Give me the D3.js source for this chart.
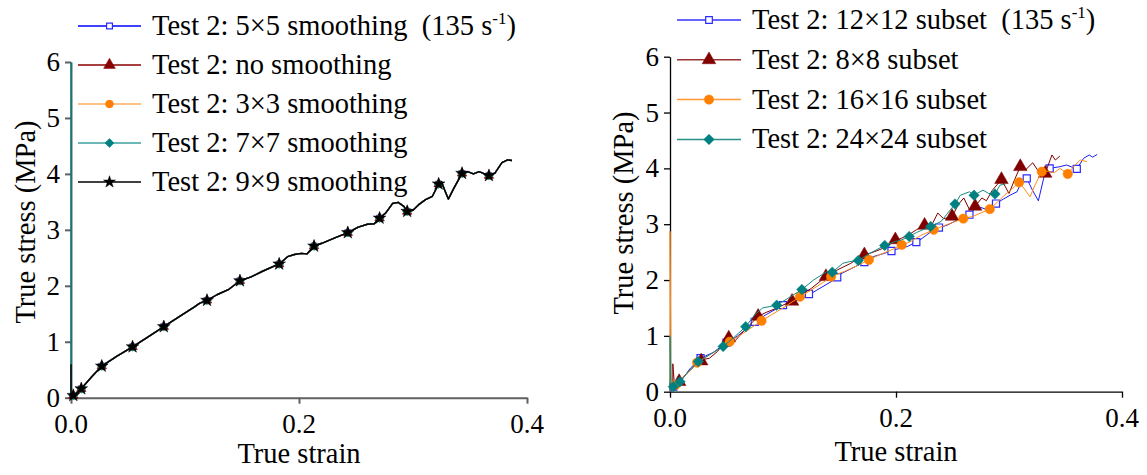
<!DOCTYPE html>
<html>
<head>
<meta charset="utf-8">
<script src="https://cdnjs.cloudflare.com/ajax/libs/d3/7.8.5/d3.min.js"></script>
</head>
<body style="margin:0">
<div id="c"></div>
<script>
// axis ticks (shared by both panels)
const xTicks = [0, 0.2, 0.4];
const xMinor = [0.1, 0.3];
const yTicks = [0, 1, 2, 3, 4, 5, 6];
const yMinor = [0.5, 1.5, 2.5, 3.5, 4.5, 5.5];

// ---- left panel: smoothing (all five curves lie on top of each other)
const leftNames = ['Test 2: 5\u00d75 smoothing', 'Test 2: no smoothing', 'Test 2: 3\u00d73 smoothing',
                   'Test 2: 7\u00d77 smoothing', 'Test 2: 9\u00d79 smoothing'];
const leftCurve = [[0,0],[0.003,0.05],[0.009,0.16],[0.018,0.37],[0.027,0.565],[0.04,0.74],[0.054,0.91],
  [0.068,1.09],[0.0814,1.27],[0.095,1.45],[0.108,1.62],[0.113,1.69],[0.1193,1.74],[0.128,1.84],[0.138,1.93],
  [0.1482,2.09],[0.158,2.16],[0.168,2.26],[0.1826,2.39],[0.19,2.52],[0.196,2.56],[0.202,2.58],[0.207,2.57],
  [0.2132,2.71],[0.22,2.76],[0.232,2.86],[0.2428,2.95],[0.252,3.05],[0.26,3.1],[0.266,3.11],[0.2707,3.21],
  [0.276,3.3],[0.282,3.47],[0.287,3.49],[0.292,3.42],[0.2949,3.33],[0.30,3.35],[0.305,3.45],[0.311,3.54],
  [0.317,3.6],[0.3225,3.82],[0.325,3.86],[0.328,3.7],[0.331,3.55],[0.336,3.75],[0.343,4.01],[0.348,4.04],
  [0.353,4.0],[0.358,4.04],[0.3666,3.97],[0.372,4.02],[0.378,4.2],[0.383,4.25],[0.3868,4.24]];
const leftMarks = [[0.002,0.04],[0.009,0.16],[0.027,0.565],[0.054,0.91],[0.0814,1.27],[0.1193,1.74],
  [0.1482,2.09],[0.1826,2.39],[0.2132,2.71],[0.2428,2.95],[0.2707,3.21],[0.2949,3.33],[0.3225,3.82],
  [0.343,4.01],[0.3666,3.97]];
// vertical start-up segments at zero strain
const left7Lead = [[0, 6]];
const left9Lead = [[0, 0.6]];

// ---- right panel: subset size
const rightNames = ['Test 2: 12\u00d712 subset', 'Test 2: 8\u00d78 subset', 'Test 2: 16\u00d716 subset', 'Test 2: 24\u00d724 subset'];
const sub12 = [[0,0],[0.003,0.09],[0.01,0.2],[0.018,0.42],[0.027,0.6],[0.038,0.7],[0.05,0.88],[0.06,1.0],
  [0.075,1.25],[0.085,1.38],[0.1,1.55],[0.11,1.62],[0.12,1.7],[0.13,1.82],[0.145,2.0],[0.15,2.1],[0.16,2.2],
  [0.17,2.3],[0.18,2.42],[0.19,2.48],[0.2,2.55],[0.21,2.6],[0.22,2.7],[0.23,2.85],[0.238,2.94],[0.245,2.98],
  [0.255,3.08],[0.265,3.17],[0.27,3.28],[0.275,3.3],[0.282,3.25],[0.2885,3.37],[0.295,3.45],[0.301,3.52],
  [0.307,3.58],[0.312,3.8],[0.3157,3.82],[0.321,3.6],[0.326,3.42],[0.333,4.02],[0.336,4.0],[0.345,4.03],
  [0.351,4.06],[0.36,3.99],[0.366,4.18],[0.371,4.24],[0.374,4.2],[0.378,4.25]];
const sub12Marks = [[0.003,0.09],[0.027,0.6],[0.05,0.88],[0.075,1.25],[0.1,1.55],[0.123,1.75],[0.148,2.05],
  [0.172,2.32],[0.196,2.52],[0.218,2.68],[0.238,2.94],[0.265,3.17],[0.2885,3.37],[0.3157,3.82],[0.336,4.0],[0.36,3.99]];
const sub8 = [[0.0025,0.05],[0.0025,0.5],[0.004,0.1],[0.0081,0.18],[0.015,0.33],[0.0276,0.57],[0.035,0.6],
  [0.042,0.72],[0.052,0.97],[0.058,0.92],[0.065,1.08],[0.078,1.35],[0.085,1.42],[0.095,1.5],[0.105,1.6],
  [0.115,1.72],[0.125,1.85],[0.138,2.06],[0.148,2.18],[0.16,2.3],[0.172,2.45],[0.18,2.5],[0.19,2.58],
  [0.1994,2.7],[0.205,2.75],[0.212,2.82],[0.218,2.9],[0.2253,2.98],[0.232,3.0],[0.237,3.2],[0.242,3.1],
  [0.2496,3.13],[0.255,3.35],[0.26,3.47],[0.265,3.26],[0.27,3.32],[0.276,3.47],[0.28,3.42],[0.285,3.6],
  [0.2933,3.8],[0.3,3.55],[0.305,3.8],[0.31,4.03],[0.315,3.98],[0.321,4.1],[0.326,3.95],[0.332,3.91],
  [0.338,4.24],[0.341,4.15],[0.345,4.22]];
const sub8Marks = [[0.0081,0.18],[0.0276,0.55],[0.052,0.96],[0.078,1.35],[0.108,1.62],[0.138,2.06],[0.172,2.45],
  [0.1994,2.72],[0.2253,2.98],[0.2496,3.14],[0.27,3.32],[0.2933,3.8],[0.31,4.03],[0.332,3.91]];
const sub16 = [[0,0],[0,2.87],[0.001,0.04],[0.005,0.12],[0.015,0.32],[0.024,0.52],[0.035,0.66],[0.045,0.78],
  [0.0528,0.895],[0.065,1.05],[0.081,1.27],[0.09,1.38],[0.1,1.5],[0.115,1.7],[0.125,1.82],[0.135,1.95],
  [0.1426,2.06],[0.155,2.16],[0.165,2.25],[0.176,2.36],[0.185,2.45],[0.195,2.53],[0.205,2.63],[0.212,2.68],
  [0.222,2.8],[0.2334,2.9],[0.242,2.97],[0.25,3.03],[0.2596,3.1],[0.268,3.14],[0.275,3.2],[0.283,3.27],
  [0.29,3.4],[0.295,3.5],[0.302,3.62],[0.309,3.75],[0.313,3.65],[0.3186,3.49],[0.323,3.7],[0.329,3.94],
  [0.335,3.95],[0.34,3.92],[0.345,4.0],[0.352,3.9],[0.358,4.05],[0.363,4.15],[0.369,4.12]];
const sub16Marks = [[0.005,0.12],[0.024,0.52],[0.0528,0.895],[0.081,1.27],[0.115,1.7],[0.1426,2.06],[0.176,2.36],
  [0.205,2.63],[0.2334,2.9],[0.2596,3.1],[0.283,3.27],[0.309,3.75],[0.329,3.94],[0.352,3.9]];
const sub24 = [[0,0],[0,0.99],[0.001,0.04],[0.003,0.09],[0.0088,0.18],[0.017,0.38],[0.025,0.54],[0.035,0.66],
  [0.047,0.81],[0.057,0.98],[0.067,1.165],[0.075,1.38],[0.082,1.5],[0.0944,1.55],[0.105,1.68],[0.1167,1.83],
  [0.127,2.0],[0.1387,2.15],[0.1436,2.14],[0.153,2.3],[0.159,2.33],[0.1666,2.35],[0.177,2.48],[0.19,2.62],
  [0.198,2.68],[0.205,2.72],[0.2117,2.78],[0.218,2.85],[0.2307,2.96],[0.24,3.05],[0.245,3.18],[0.2522,3.36],
  [0.257,3.52],[0.265,3.58],[0.2691,3.52],[0.277,3.61],[0.282,3.55],[0.2876,3.54],[0.292,3.7],[0.297,3.72]];
const sub24Marks = [[0.003,0.09],[0.0088,0.18],[0.025,0.54],[0.047,0.81],[0.067,1.165],[0.0944,1.55],
  [0.1167,1.83],[0.1436,2.14],[0.1666,2.35],[0.19,2.62],[0.2117,2.78],[0.2307,2.96],[0.2522,3.36],
  [0.2691,3.52],[0.2876,3.54]];

const W = 1147, H = 475;
const FONT = "'Liberation Serif', 'Times New Roman', Tinos, FreeSerif, serif";
const svg = d3.select('#c').append('svg').attr('width', W).attr('height', H);

const symbols = {
  square:   { type: d3.symbolSquare, rot: 0, open: true },
  triangle: { type: d3.symbolTriangle, rot: 0 },
  circle:   { type: d3.symbolCircle, rot: 0 },
  diamond:  { type: d3.symbolSquare, rot: 45 },
  star:     { type: d3.symbolStar, rot: 0 }
};

function label(g, x, y, size, str) {
  const t = g.append('text').attr('x', x).attr('y', y).attr('font-size', size)
    .attr('font-family', FONT).style('font-family', FONT);
  if (str !== null) t.text(str);
  return t;
}

function drawMarker(g, sym, size, color, cx, cy) {
  const s = symbols[sym];
  g.append('path')
    .attr('d', d3.symbol().type(s.type).size(size)())
    .attr('transform', 'translate(' + cx + ',' + cy + ') rotate(' + s.rot + ')')
    .attr('fill', s.open ? '#fff' : color)
    .attr('stroke', color)
    .attr('stroke-width', s.open ? 1.2 : 0.5);
}

function drawPanel(p, series) {
  const x = d3.scaleLinear().domain([0, 0.4]).range([p.x0, p.x1]);
  const y = d3.scaleLinear().domain([0, 6]).range([p.y0, p.y1]);
  const g = svg.append('g');

  // axes: lines and ticks from d3.axis, labels written as plain texts
  const xa = g.append('g').attr('transform', 'translate(0,' + p.y0 + ')');
  xa.call(d3.axisBottom(x).tickValues(xMinor).tickSize(3.5).tickSizeOuter(0).tickFormat(''));
  xa.call(d3.axisBottom(x).tickValues(xTicks).tickSize(6).tickSizeOuter(0).tickFormat(''));
  const ya = g.append('g').attr('transform', 'translate(' + p.x0 + ',0)');
  ya.call(d3.axisLeft(y).tickValues(yMinor).tickSize(3.5).tickSizeOuter(0).tickFormat(''));
  ya.call(d3.axisLeft(y).tickValues(yTicks).tickSize(6).tickSizeOuter(0).tickFormat(''));
  g.selectAll('.domain, .tick line').attr('stroke', p.axisColor).attr('stroke-width', p.axisWidth);
  g.selectAll('.tick text').remove();

  xTicks.forEach(v => label(g, x(v), p.y0 + 35.5, 27, d3.format('.1f')(v)).attr('text-anchor', 'middle'));
  yTicks.forEach(v => label(g, p.x0 - 11, y(v) + 9, 27, d3.format('d')(v)).attr('text-anchor', 'end'));

  label(g, (p.x0 + p.x1) / 2, p.xTitleY, 28.5, 'True strain').attr('text-anchor', 'middle');
  label(g, 0, 0, 28.5, 'True stress (MPa)').attr('text-anchor', 'middle')
    .attr('transform', 'translate(' + p.yTitleX + ',' + p.yTitleY + ') rotate(-90)');

  // curves
  const line = d3.line().x(d => x(d[0])).y(d => y(d[1]));
  series.forEach(s => {
    g.append('path').datum(s.points).attr('d', line)
      .attr('fill', 'none').attr('stroke', s.lineColor).attr('stroke-width', p.lineWidth)
      .attr('stroke-linejoin', 'round');
    s.marks.forEach(d => drawMarker(g, s.symbol, s.size, s.color, x(d[0]), y(d[1])));
  });

  // legend
  series.forEach((s, i) => {
    const ry = p.legTop + i * p.legGap;
    g.append('line').attr('x1', p.legX0).attr('x2', p.legX1).attr('y1', ry).attr('y2', ry)
      .attr('stroke', s.legColor).attr('stroke-width', 1.5);
    drawMarker(g, s.symbol, s.legSize, s.color, (p.legX0 + p.legX1) / 2, ry);
    if (i === 0) {
      const t = label(g, p.legText, ry + 9, 28.5, null);
      t.append('tspan').text(s.name + '\u00a0\u00a0(135 s');
      t.append('tspan').attr('font-size', 17).attr('dy', -11).text('-1');
      t.append('tspan').attr('dy', 11).text(')');
    } else {
      label(g, p.legText, ry + 9, 28.5, s.name);
    }
  });
}

drawPanel(
  { x0: 71, x1: 527, y0: 397.7, y1: 62, axisColor: '#606060', axisWidth: 2, lineWidth: 1.4,
    xTitleY: 463, yTitleX: 35, yTitleY: 222,
    legTop: 26, legGap: 39, legX0: 78, legX1: 141, legText: 152 },
  [
    { name: leftNames[0], points: leftCurve, marks: leftMarks, symbol: 'square', size: 30, legSize: 34,
      color: '#2b2bff', lineColor: '#0000ff', legColor: '#0000ff' },
    { name: leftNames[1], points: leftCurve, marks: leftMarks, symbol: 'triangle', size: 40, legSize: 60,
      color: '#8b0000', lineColor: '#8b0000', legColor: '#8b0000' },
    { name: leftNames[2], points: leftCurve, marks: leftMarks, symbol: 'circle', size: 36, legSize: 48,
      color: '#ff8000', lineColor: '#ff9a30', legColor: '#ffae5c' },
    { name: leftNames[3], points: left7Lead.concat(leftCurve), marks: leftMarks, symbol: 'diamond', size: 40, legSize: 40,
      color: '#008080', lineColor: '#008080', legColor: '#3c9f9f' },
    { name: leftNames[4], points: left9Lead.concat(leftCurve), marks: leftMarks, symbol: 'star', size: 50, legSize: 44,
      color: '#000000', lineColor: '#000000', legColor: '#000000' }
  ]);

drawPanel(
  { x0: 670, x1: 1122, y0: 391.7, y1: 56.7, axisColor: '#000', axisWidth: 1.3, lineWidth: 1,
    xTitleY: 461, yTitleX: 633, yTitleY: 213,
    legTop: 20, legGap: 39.8, legX0: 677, legX1: 741, legText: 752 },
  [
    { name: rightNames[0], points: sub12, marks: sub12Marks, symbol: 'square', size: 50, legSize: 44,
      color: '#2b2bff', lineColor: '#1a1aff', legColor: '#3333ff' },
    { name: rightNames[1], points: sub8, marks: sub8Marks, symbol: 'triangle', size: 80, legSize: 80,
      color: '#800000', lineColor: '#800000', legColor: '#993333' },
    { name: rightNames[2], points: sub16, marks: sub16Marks, symbol: 'circle', size: 70, legSize: 70,
      color: '#ff8000', lineColor: '#ff8c1a', legColor: '#ff9933' },
    { name: rightNames[3], points: sub24, marks: sub24Marks, symbol: 'diamond', size: 55, legSize: 55,
      color: '#008080', lineColor: '#158a80', legColor: '#2a8f85' }
  ]);
</script>
</body>
</html>
